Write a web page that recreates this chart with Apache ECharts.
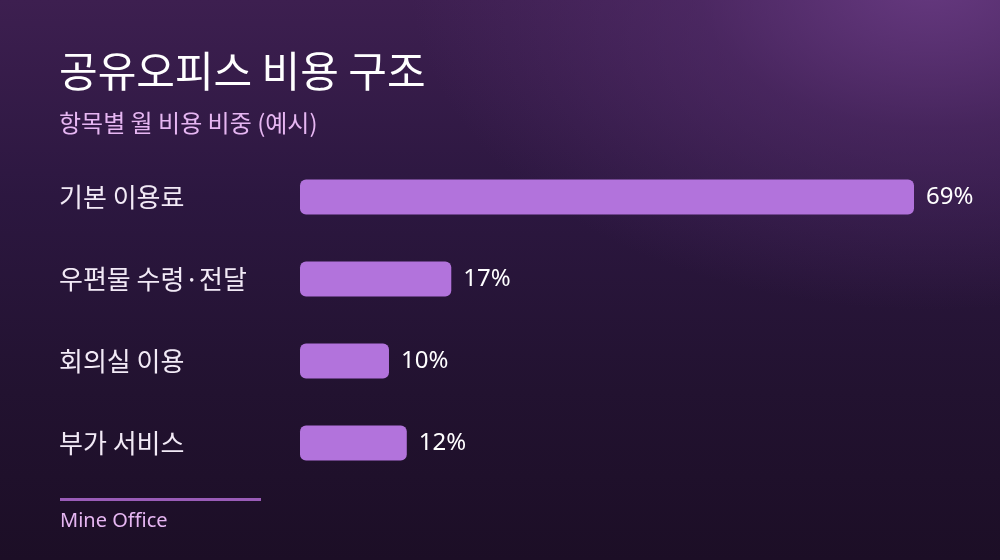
<!DOCTYPE html>
<html>
<head>
<meta charset="utf-8">
<script src="https://cdn.jsdelivr.net/npm/echarts@6/dist/echarts.min.js"></script>
<style>
html,body{margin:0;padding:0;width:1000px;height:560px;overflow:hidden;}
#bg{position:absolute;left:0;top:0;width:1000px;height:560px;
background:
 radial-gradient(ellipse 520px 330px at 930px -20px, rgba(104,58,130,0.95) 0%, rgba(90,48,115,0.5) 45%, rgba(60,30,80,0) 100%),
 linear-gradient(180deg, #3d1f50 0%, #2c1740 35%, #221230 70%, #1c0e26 100%);}
#chart{position:absolute;left:0;top:0;width:1000px;height:560px;}
</style>
</head>
<body>
<div id="bg"></div>
<div id="chart"></div>
<script>
const titleText = '공유오피스 비용 구조';
const subtitleText = '항목별 월 비용 비중 (예시)';
const sourceText = 'Mine Office';
const categories = ['기본 이용료', '우편물 수령·전달', '회의실 이용', '부가 서비스'];
const values = [69, 17, 10, 12];

const KR = '"Noto Sans CJK KR", "Noto Sans", sans-serif';
const chart = echarts.init(document.getElementById('chart'), null, {renderer: 'canvas'});
chart.setOption({
  backgroundColor: 'transparent',
  animation: false,
  title: [
    {text: titleText, left: 59, top: 50, padding: 0, textStyle: {color: '#ffffff', fontSize: 42, fontWeight: 400, fontFamily: KR}},
    {text: subtitleText, left: 59, top: 111, padding: 0, textStyle: {color: '#e6b6f2', fontSize: 24, fontWeight: 400, fontFamily: KR}},
    {text: sourceText, left: 60, top: 511, padding: 0, textStyle: {color: '#e6b6f2', fontSize: 20, fontWeight: 400, fontFamily: '"Noto Sans", sans-serif'}}
  ],
  graphic: [
    {type: 'rect', shape: {x: 60, y: 498, width: 201, height: 3}, style: {fill: '#9a5cb8'}}
  ],
  grid: {left: 300, top: 156, width: 614, height: 328, containLabel: false},
  xAxis: {type: 'value', min: 0, max: 69, show: false},
  yAxis: {
    type: 'category', data: categories, inverse: true,
    axisLine: {show: false}, axisTick: {show: false}, splitLine: {show: false},
    axisLabel: {color: '#f2eaf6', fontSize: 26, fontFamily: KR, align: 'left', margin: 241}
  },
  series: [{
    type: 'bar', data: values, barWidth: 35,
    itemStyle: {color: '#b273dc', borderRadius: 6},
    label: {show: true, position: 'right', distance: 12, formatter: '{c}%', color: '#ffffff', fontSize: 24, fontFamily: '"Noto Sans", sans-serif'}
  }]
});
</script>
</body>
</html>
